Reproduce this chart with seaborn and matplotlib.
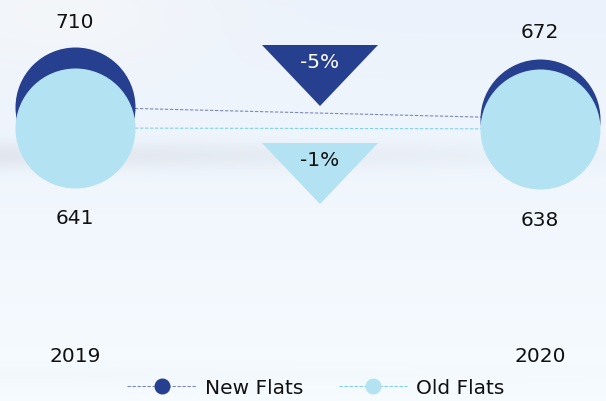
import numpy as np
import pandas as pd
import matplotlib
matplotlib.use("Agg")
import matplotlib.pyplot as plt
from matplotlib.lines import Line2D
import seaborn as sns

# ---- data ----
years = ["2019", "2020"]
new_flats = [710, 672]
old_flats = [641, 638]
series_names = ["New Flats", "Old Flats"]
change_labels = ["-5%", "-1%"]

DARK = "#26408f"
LIGHT = "#b3e2f3"
DARK_LINE = "#7d88b6"
LIGHT_LINE = "#7fd0ee"

sns.set_theme(style="white")
plt.rcParams['font.family'] = ['DejaVu Sans']

W, H = 606, 401
fig = plt.figure(figsize=(W / 100, H / 100), dpi=100)

# background gradient
bg = fig.add_axes([0, 0, 1, 1], zorder=0)
yy, xx = np.mgrid[0:H, 0:W]
xn = xx / W
yn = yy / H
base = np.zeros((H, W, 3))
top = np.array([0.925, 0.950, 0.985])
bot = np.array([0.965, 0.985, 1.0])
for c in range(3):
    base[..., c] = top[c] + (bot[c] - top[c]) * yn
band = np.exp(-((yy - 155) / 14.0) ** 2) * (1.0 - 0.8 * xn)
band2 = np.exp(-((yy - 375) / 10.0) ** 2) * (1.0 - 0.7 * xn) * 0.4
grey = np.array([0.86, 0.88, 0.91])
for c in range(3):
    base[..., c] = base[..., c] * (1 - 0.7 * band) + grey[c] * 0.7 * band
    base[..., c] = base[..., c] * (1 - 0.3 * band2) + grey[c] * 0.3 * band2
glow = np.exp(-(((xx - 60) / 160.0) ** 2 + ((yy - 10) / 60.0) ** 2)) * 0.6
for c in range(3):
    base[..., c] = base[..., c] * (1 - glow) + 0.975 * glow
bg.imshow(np.clip(base, 0, 1), aspect="auto", extent=[0, W, H, 0])
bg.set_axis_off()

# main axes
ax = fig.add_axes([0, 0, 1, 1], zorder=1)
ax.patch.set_alpha(0)

df = pd.DataFrame({
    "x": [0, 1, 0, 1],
    "value": new_flats + old_flats,
    "series": [series_names[0]] * 2 + [series_names[1]] * 2,
})

sns.lineplot(data=df, x="x", y="value", hue="series",
             palette={series_names[0]: DARK, series_names[1]: LIGHT},
             marker="o", markersize=86.4, markeredgewidth=0,
             linestyle=(0, (3, 1.5)), linewidth=0.8, legend=False, ax=ax)
for ln, col, mc in zip(ax.lines, [DARK_LINE, LIGHT_LINE], [DARK, LIGHT]):
    ln.set_color(col)
    ln.set_markerfacecolor(mc)
    ln.set_markeredgecolor(mc)

# axis mapping: x=0 -> 75 px, x=1 -> 540 px
span = 540 - 75
ax.set_xlim(-75 / span, 1 + (W - 540) / span)
s = 21 / 69.0
y0 = 641 - (H - 128) / s
ax.set_ylim(y0, y0 + H / s)
ax.set_axis_off()

fs = 14.5
TXT = "#111111"
label_pos = [(75, 22, new_flats[0]), (540, 33, new_flats[1]),
             (75, 218, old_flats[0]), (540, 220, old_flats[1])]
for x, y, v in label_pos:
    fig.text(x / W, 1 - y / H, f"{v}", ha="center", va="center", fontsize=fs, color=TXT)

for x, yr in zip([75, 540], years):
    fig.text(x / W, 1 - 357 / H, yr, ha="center", va="center", fontsize=fs, color=TXT)

tri_specs = [((262, 45), (378, 45), (320, 106), DARK, change_labels[0], "white", 62),
             ((262, 143), (378, 143), (320, 204), LIGHT, change_labels[1], TXT, 161)]
for a, b, c, col, lab, tcol, ty in tri_specs:
    poly = plt.Polygon([(a[0] / W, 1 - a[1] / H), (b[0] / W, 1 - b[1] / H), (c[0] / W, 1 - c[1] / H)],
                       closed=True, transform=fig.transFigure, facecolor=col, edgecolor="none", zorder=2)
    fig.patches.append(poly)
    fig.text(320 / W, 1 - ty / H, lab, ha="center", va="center", fontsize=fs, color=tcol, zorder=3)

handles = [Line2D([], [], color=DARK_LINE, linestyle=(0, (3, 1.5)), linewidth=0.8,
                  marker="o", markersize=10.5, markerfacecolor=DARK, markeredgecolor=DARK),
           Line2D([], [], color=LIGHT_LINE, linestyle=(0, (3, 1.5)), linewidth=0.8,
                  marker="o", markersize=10.5, markerfacecolor=LIGHT, markeredgecolor=LIGHT)]
fig.legend(handles, series_names, loc="center", bbox_to_anchor=(316 / W, 1 - 388 / H),
           ncol=2, frameon=False, fontsize=fs, handlelength=3.4, handletextpad=0.45,
           columnspacing=1.75, borderpad=0, borderaxespad=0, labelcolor=TXT)

fig.savefig("out.png", dpi=100)
